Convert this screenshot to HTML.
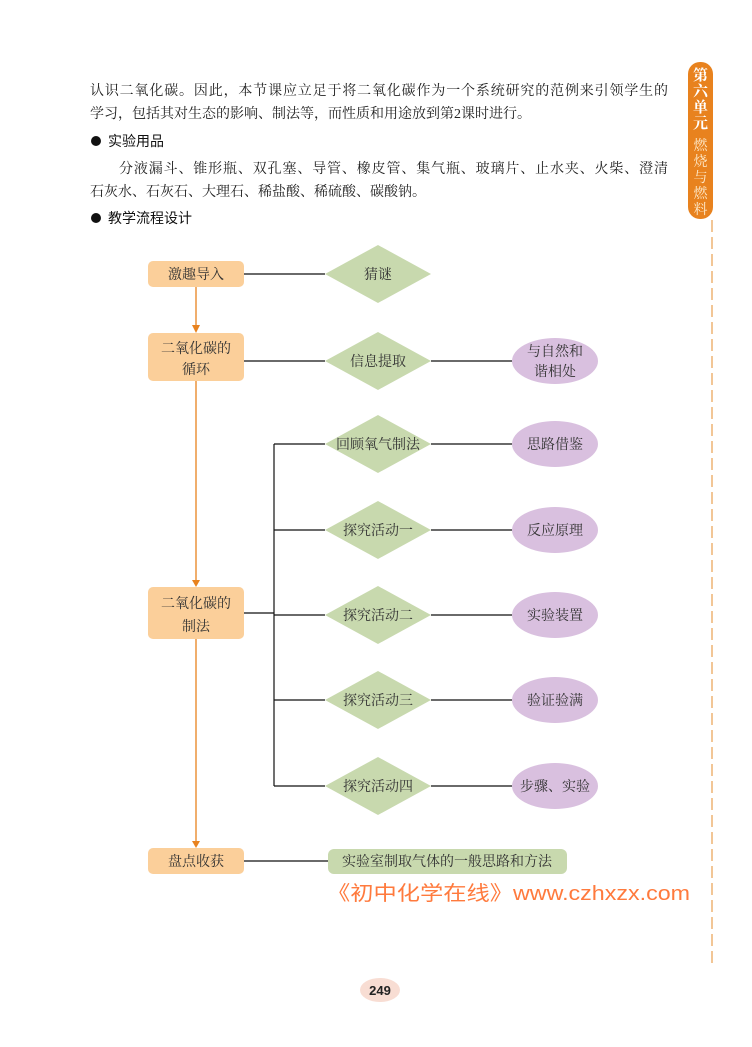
<!DOCTYPE html>
<html><head><meta charset="utf-8"><style>
html,body{margin:0;padding:0;background:#fff;}
svg{display:block;}
.s{font-family:"Liberation Serif","Noto Serif CJK SC",serif;}
.h{font-family:"Liberation Sans","Noto Sans CJK SC",sans-serif;}
</style></head><body>
<svg width="752" height="1047" viewBox="0 0 752 1047" xmlns="http://www.w3.org/2000/svg">
<rect width="752" height="1047" fill="#fff"/>
<!-- side tab -->
<rect x="688" y="62" width="25" height="157" rx="12" fill="#e8821e"/>
<g class="s" font-size="15" fill="#fff" text-anchor="middle" font-weight="bold">
<text x="700.5" y="80">第</text><text x="700.5" y="96">六</text><text x="700.5" y="112">单</text><text x="700.5" y="128">元</text>
</g>
<g class="s" font-size="14" fill="#fde8c8" text-anchor="middle">
<text x="700.5" y="150">燃</text><text x="700.5" y="166">烧</text><text x="700.5" y="182">与</text><text x="700.5" y="198">燃</text><text x="700.5" y="214">料</text>
</g>
<line x1="712" y1="220" x2="712" y2="966" stroke="#e8a050" stroke-width="1.2" stroke-dasharray="12,5"/>
<!-- body text -->
<g class="s" font-size="14" fill="#222">
<text x="90" y="95" textLength="578" lengthAdjust="spacing">认识二氧化碳。因此，本节课应立足于将二氧化碳作为一个系统研究的范例来引领学生的</text>
<text x="90" y="118">学习，包括其对生态的影响、制法等，而性质和用途放到第2课时进行。</text>
<text x="119" y="173" textLength="549" lengthAdjust="spacing">分液漏斗、锥形瓶、双孔塞、导管、橡皮管、集气瓶、玻璃片、止水夹、火柴、澄清</text>
<text x="90" y="196">石灰水、石灰石、大理石、稀盐酸、稀硫酸、碳酸钠。</text>
</g>
<g class="h" font-size="14" fill="#111">
<circle cx="96" cy="141" r="5" fill="#111"/><text x="108" y="146">实验用品</text>
<circle cx="96" cy="218" r="5" fill="#111"/><text x="108" y="223">教学流程设计</text>
</g>
<!-- connectors -->
<g stroke="#111" stroke-width="1.2" fill="none">
<line x1="244" y1="274" x2="325" y2="274"/>
<line x1="244" y1="361" x2="325" y2="361"/>
<line x1="431" y1="361" x2="512" y2="361"/>
<line x1="244" y1="613" x2="274" y2="613"/>
<line x1="274" y1="444" x2="274" y2="786"/>
<line x1="274" y1="444" x2="325" y2="444"/>
<line x1="274" y1="530" x2="325" y2="530"/>
<line x1="274" y1="615" x2="325" y2="615"/>
<line x1="274" y1="700" x2="325" y2="700"/>
<line x1="274" y1="786" x2="325" y2="786"/>
<line x1="431" y1="444" x2="512" y2="444"/>
<line x1="431" y1="530" x2="512" y2="530"/>
<line x1="431" y1="615" x2="512" y2="615"/>
<line x1="431" y1="700" x2="512" y2="700"/>
<line x1="431" y1="786" x2="512" y2="786"/>
<line x1="244" y1="861" x2="328" y2="861"/>
</g>
<!-- orange arrows -->
<g stroke="#e8821e" stroke-width="1.3" fill="#e8821e">
<line x1="196" y1="287" x2="196" y2="327"/><polygon points="192,325 200,325 196,333" stroke="none"/>
<line x1="196" y1="381" x2="196" y2="581"/><polygon points="192,580 200,580 196,587" stroke="none"/>
<line x1="196" y1="639" x2="196" y2="842"/><polygon points="192,841 200,841 196,848" stroke="none"/>
</g>
<!-- left boxes -->
<g fill="#fbcf9a">
<rect x="148" y="261" width="96" height="26" rx="5"/>
<rect x="148" y="333" width="96" height="48" rx="5"/>
<rect x="148" y="587" width="96" height="52" rx="5"/>
<rect x="148" y="848" width="96" height="26" rx="5"/>
</g>
<g class="s" font-size="14" fill="#333" text-anchor="middle">
<text x="196" y="279">激趣导入</text>
<text x="196" y="353">二氧化碳的</text><text x="196" y="374">循环</text>
<text x="196" y="608">二氧化碳的</text><text x="196" y="631">制法</text>
<text x="196" y="866">盘点收获</text>
</g>
<!-- diamonds -->
<g fill="#c8d9ae">
<polygon points="325,274 378,245 431,274 378,303"/>
<polygon points="325,361 378,332 431,361 378,390"/>
<polygon points="325,444 378,415 431,444 378,473"/>
<polygon points="325,530 378,501 431,530 378,559"/>
<polygon points="325,615 378,586 431,615 378,644"/>
<polygon points="325,700 378,671 431,700 378,729"/>
<polygon points="325,786 378,757 431,786 378,815"/>
</g>
<g class="s" font-size="14" fill="#333" text-anchor="middle">
<text x="378" y="279">猜谜</text>
<text x="378" y="366">信息提取</text>
<text x="378" y="449">回顾氧气制法</text>
<text x="378" y="535">探究活动一</text>
<text x="378" y="620">探究活动二</text>
<text x="378" y="705">探究活动三</text>
<text x="378" y="791">探究活动四</text>
</g>
<!-- ellipses -->
<g fill="#d9c0df">
<ellipse cx="555" cy="361" rx="43" ry="23"/>
<ellipse cx="555" cy="444" rx="43" ry="23"/>
<ellipse cx="555" cy="530" rx="43" ry="23"/>
<ellipse cx="555" cy="615" rx="43" ry="23"/>
<ellipse cx="555" cy="700" rx="43" ry="23"/>
<ellipse cx="555" cy="786" rx="43" ry="23"/>
</g>
<g class="s" font-size="14" fill="#333" text-anchor="middle">
<text x="555" y="356">与自然和</text><text x="555" y="376">谐相处</text>
<text x="555" y="449">思路借鉴</text>
<text x="555" y="535">反应原理</text>
<text x="555" y="620">实验装置</text>
<text x="555" y="705">验证验满</text>
<text x="555" y="791">步骤、实验</text>
</g>
<rect x="328" y="849" width="239" height="25" rx="6" fill="#c8d9ae"/>
<text class="s" x="447" y="866" font-size="14" fill="#333" text-anchor="middle">实验室制取气体的一般思路和方法</text>
<!-- watermark -->
<text x="327" y="900" font-family="'Liberation Sans','Noto Sans CJK SC',sans-serif" font-size="20" fill="#ff7a3d" textLength="363" lengthAdjust="spacingAndGlyphs">《初中化学在线》www.czhxzx.com</text>
<!-- page number -->
<ellipse cx="380" cy="990" rx="20" ry="12" fill="#f8ddd3"/>
<text x="380" y="995" class="h" font-size="13" font-weight="bold" fill="#222" text-anchor="middle">249</text>
</svg>
</body></html>
